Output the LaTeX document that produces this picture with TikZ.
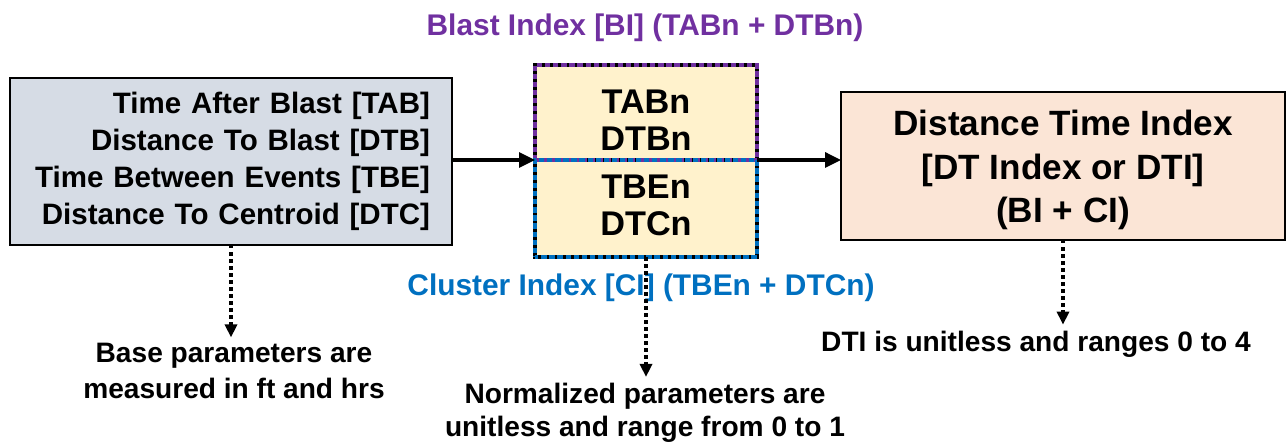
\documentclass[tikz,border=0pt]{standalone}
\usepackage{fontspec}
\setmainfont{Liberation Sans}
\usepackage{xcolor}
\usetikzlibrary{arrows.meta}

\definecolor{inputfill}{HTML}{D6DCE5}
\definecolor{normfill}{HTML}{FFF2CC}
\definecolor{dtifill}{HTML}{FBE5D6}
\definecolor{blastpurple}{HTML}{7030A0}
\definecolor{clusterblue}{HTML}{0070C0}

\begin{document}
\begin{tikzpicture}[x = 0.02cm, y = -0.02cm,
		box/.style = {draw, line width = 1.2pt, inner sep = 0pt, outer sep = 0pt},
		midtext/.style = {align = center, font = \bfseries\fontsize{19.5}{21}\selectfont},
		flow/.style = {line width = 1.8pt, -{Triangle[length = 0.32cm, width = 0.3cm]}},
		note/.style = {line width = 2.2pt, dash pattern = on 2pt off 2pt, -{Triangle[length = 0.26cm, width = 0.24cm]}},
		halfline/.style = {line width = 2.4pt, dash pattern = on 3pt off 1.6pt}]
	\useasboundingbox (0,0) rectangle (1287,445);

	% input parameters
	\node [box, fill = inputfill, minimum width = 8.84cm, minimum height = 3.34cm, text width = 7.96cm, align = right,
		font = \bfseries\fontsize{16.8}{21}\selectfont] (inputs) at (231,161.5)
		{Time After Blast [TAB]\\ Distance To Blast [DTB]\\ Time Between Events [TBE]\\ Distance To Centroid [DTC]};

	% normalized parameters
	\node [box, line width = 2.4pt, fill = normfill, minimum width = 4.44cm, minimum height = 1.9cm] (bi) at (646,112.5) {};
	\node [box, line width = 2.4pt, fill = normfill, minimum width = 4.44cm, minimum height = 1.94cm] (ci) at (646,208.5) {};
	\draw [halfline, blastpurple] (bi.south west) rectangle (bi.north east);
	\draw [halfline, clusterblue, dash phase = 2.3pt] (ci.south west) rectangle (ci.north east);
	\node [midtext] (bitext) at (646,120) {TABn\\ DTBn};
	\node [midtext] (citext) at (646,205) {TBEn\\ DTCn};

	% index
	\node [box, fill = dtifill, minimum width = 8.88cm, minimum height = 2.96cm, align = center,
		font = \bfseries\fontsize{20}{24.5}\selectfont] (dti) at (1063,166)
		{\rule{0pt}{0.95em}Distance Time Index\\{}[DT Index or DTI]\\ (BI + CI)};

	\node [text = blastpurple, font = \bfseries\fontsize{17}{20}\selectfont] (bilabel) at (645,28) {Blast Index [BI] (TABn + DTBn)};
	\node [text = clusterblue, font = \bfseries\fontsize{17}{20}\selectfont] (cilabel) at (641,288) {Cluster Index [CI] (TBEn + DTCn)};

	\begin{scope}[flow]
		\draw (inputs.east |- bi.south) -- (bi.south west);
		\draw (bi.south east) -- (bi.south east -| dti.west);
	\end{scope}

	% notes
	\begin{scope}[align = center, font = \bfseries\fontsize{16}{20}\selectfont]
		\node (basenote) at (234,371) {Base parameters are\\ measured in ft and hrs};
		\node [font = \bfseries\fontsize{16}{19}\selectfont] (normnote) at (645,413) {Normalized parameters are\\ unitless and range from 0 to 1};
		\node (dtinote) at (1036,344) {DTI is unitless and ranges 0 to 4};
	\end{scope}

	\draw [note] (inputs.south) -- (inputs.south |- basenote.north);
	\draw [note] (ci.south) -- (ci.south |- normnote.north);
	\draw [note] (dti.south) -- (dti.south |- dtinote.north);
\end{tikzpicture}
\end{document}
